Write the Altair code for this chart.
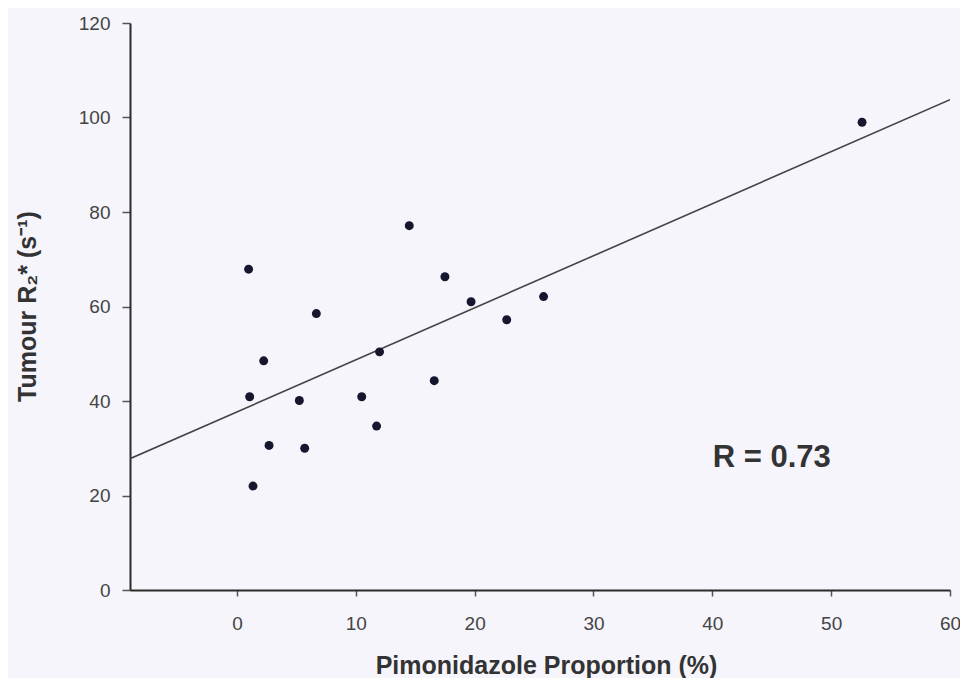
import altair as alt
import pandas as pd

# Data
pim_x = [0.98, 1.07, 1.35, 2.25, 2.7, 5.25, 5.7, 6.68, 10.5, 11.75, 12.0, 14.5,
         16.6, 17.5, 19.7, 22.7, 25.8, 52.6]
r2_y = [67.9, 40.9, 22.0, 48.5, 30.6, 40.1, 30.0, 58.5, 40.9, 34.7, 50.4, 77.1,
        44.3, 66.3, 61.0, 57.2, 62.1, 99.0]
x_ticks = [0, 10, 20, 30, 40, 50, 60]
y_ticks = [0, 20, 40, 60, 80, 100, 120]
x_domain = [-9, 60]
y_domain = [0, 120]
ann_text = ["R = 0.73"]
ann_x = [45.0]
ann_y = [27.9]

FONT = "Liberation Sans"

df = pd.DataFrame({"x": pim_x, "y": r2_y})
ann = pd.DataFrame({"x": ann_x, "y": ann_y, "t": ann_text})

x_axis = alt.Axis(
    values=x_ticks, title="Pimonidazole Proportion (%)", grid=False,
    domainColor="#2b2b2b", domainWidth=2, tickColor="#555", tickSize=6, tickWidth=1.5,
    labelFont=FONT, labelFontSize=19, labelColor="#444", labelPadding=18,
    labelFlush=False, labelOverlap=False,
    titleFont=FONT, titleFontSize=25, titleFontWeight="bold", titleColor="#333",
    titleX=416, titleY=75, titleBaseline="middle", titleAlign="center",
)
y_axis = alt.Axis(
    values=y_ticks, title="Tumour R₂* (s⁻¹)", grid=False,
    domainColor="#2b2b2b", domainWidth=2, tickColor="#555", tickSize=8, tickWidth=1.5,
    labelFont=FONT, labelFontSize=19, labelColor="#444", labelPadding=12,
    labelFlush=False, labelOverlap=False,
    titleFont=FONT, titleFontSize=25, titleFontWeight="bold", titleColor="#333",
    titleX=-103, titleY=283, titleAngle=270, titleBaseline="middle", titleAlign="center",
)

xs = alt.Scale(domain=x_domain, nice=False, zero=False)
ys = alt.Scale(domain=y_domain, nice=False, zero=False)

base = alt.Chart(df)

points = base.mark_circle(size=80, color="#16162e", opacity=1).encode(
    x=alt.X("x:Q", scale=xs, axis=x_axis),
    y=alt.Y("y:Q", scale=ys, axis=y_axis),
)

line = base.transform_regression("x", "y", extent=x_domain).mark_line(
    color="#444444", strokeWidth=1.6, clip=True
).encode(
    x=alt.X("x:Q", scale=xs, axis=x_axis),
    y=alt.Y("y:Q", scale=ys, axis=y_axis),
)

label = alt.Chart(ann).mark_text(
    font=FONT, fontSize=31, fontWeight="bold", color="#333", align="center", baseline="middle"
).encode(
    x=alt.X("x:Q", scale=xs, axis=x_axis),
    y=alt.Y("y:Q", scale=ys, axis=y_axis),
    text="t:N",
)

chart = alt.layer(line, points, label).properties(
    width=820, height=567,
    autosize=alt.AutoSizeParams(type="none"),
    padding={"left": 122, "top": 15, "right": 10, "bottom": 88},
    background="#f5f5fb",
).configure_view(stroke=None)

chart.save("out.html", embed_options={"renderer": "svg", "actions": False})
